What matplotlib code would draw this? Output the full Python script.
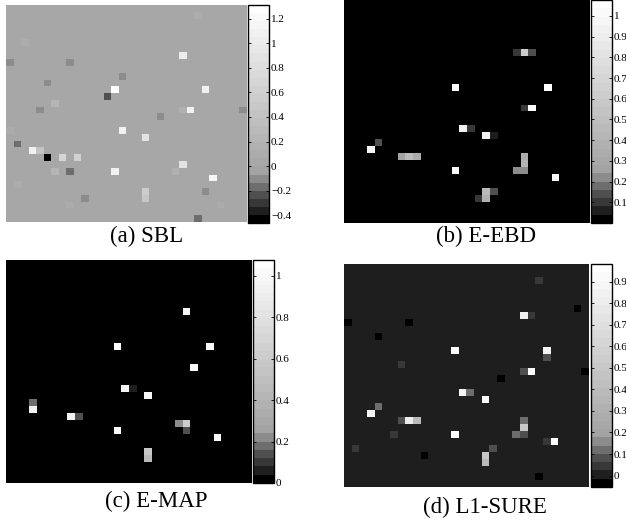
import numpy as np
import matplotlib
matplotlib.use("Agg")
from matplotlib import pyplot as plt
from matplotlib.colors import ListedColormap

plt.rcParams['font.family'] = ['Liberation Serif', 'DejaVu Serif']

N = 32

# (a) SBL  - nonzero cells (row, col, value), background 0
sbl_rows = [1, 5, 8, 8, 7, 10, 11, 12, 13, 12, 14, 15, 15, 15, 15, 16, 18, 18, 19, 20,
            21, 21, 22, 22, 22, 24, 24, 24, 24, 23, 25, 26, 27, 28, 27, 28, 29, 29, 31]
sbl_cols = [25, 2, 0, 8, 23, 15, 5, 14, 13, 26, 6, 4, 23, 24, 31, 20, 0, 15, 18, 1,
            3, 4, 5, 7, 9, 6, 8, 14, 22, 23, 27, 1, 18, 18, 26, 10, 8, 28, 25]
sbl_vals = [0.12, 0.1, -0.1, -0.1, 1.0, -0.1, -0.1, 1.28, -0.25, 1.05, 0.2, -0.1, 0.15, 1.08, -0.1, -0.1, 0.1, 1.05, 0.9, -0.18,
            1.05, 0.45, -0.44, 0.7, 0.65, 0.25, -0.18, 1.1, 0.15, 0.9, 1.12, 0.1, 0.55, 0.5, -0.12, -0.12, 0.1, 0.1, -0.17]

# (b) E-EBD
ebd_rows = [7, 7, 7, 12, 12, 15, 15, 18, 18, 19, 19, 20, 21, 22, 22, 22,
            22, 23, 24, 24, 24, 25, 27, 27, 28, 28]
ebd_cols = [22, 23, 24, 14, 26, 23, 24, 15, 16, 18, 19, 4, 3, 7, 8, 9,
            23, 23, 22, 23, 14, 27, 18, 19, 17, 18]
ebd_vals = [0.1, 0.6, 0.14, 1.05, 1.04, 0.1, 1.0, 0.95, 0.09, 0.95, 0.06, 0.14, 0.97, 0.26, 0.45, 0.33,
            0.33, 0.42, 0.22, 0.22, 1.02, 1.0, 0.45, 0.14, 0.1, 0.38]

# (c) E-MAP
map_rows = [7, 12, 12, 15, 18, 18, 19, 20, 21, 22, 22, 23, 23, 24, 24, 25, 27, 28]
map_cols = [23, 14, 26, 24, 15, 16, 18, 3, 3, 8, 9, 22, 23, 23, 14, 27, 18, 18]
map_vals = [0.97, 1.05, 1.0, 1.02, 0.97, 0.06, 0.97, 0.17, 0.95, 0.95, 0.15, 0.22, 0.6, 0.13, 1.0, 1.02, 0.58, 0.45]

# (d) L1-SURE
sure_rows = [2, 6, 8, 8, 10, 7, 7, 12, 12, 13, 14, 15, 15, 15, 16, 18, 18, 19, 20, 21,
             22, 22, 22, 22, 23, 24, 24, 24, 24, 25, 25, 26, 26, 27, 27, 28, 30]
sure_cols = [25, 30, 0, 8, 4, 23, 24, 14, 26, 26, 7, 23, 24, 31, 20, 15, 16, 18, 4, 3,
             7, 8, 9, 23, 23, 22, 23, 14, 6, 26, 27, 1, 19, 10, 18, 18, 25]
sure_vals = [0.045, -0.045, -0.045, -0.045, -0.045, 0.85, 0.045, 0.95, 0.88, 0.08, 0.045, 0.08, 0.95, -0.045, -0.045, 0.9, 0.11, 0.92, 0.11, 0.88,
             0.08, 0.82, 0.4, 0.11, 0.5, 0.13, 0.08, 0.95, 0.045, 0.045, 0.95, 0.045, 0.08, -0.045, 0.5, 0.38, -0.045]

captions = ["(a) SBL", "(b) E-EBD", "(c) E-MAP", "(d) L1-SURE"]
limits = [(-0.462, 1.31), (0.0, 1.077), (0.0, 1.076), (-0.053, 0.982)]
ticks = [[-0.4, -0.2, 0, 0.2, 0.4, 0.6, 0.8, 1, 1.2],
         [0.1, 0.2, 0.3, 0.4, 0.5, 0.6, 0.7, 0.8, 0.9, 1],
         [0, 0.2, 0.4, 0.6, 0.8, 1],
         [0, 0.1, 0.2, 0.3, 0.4, 0.5, 0.6, 0.7, 0.8, 0.9]]


def make_grid(rows, cols, vals):
    g = np.zeros((N, N))
    g[rows, cols] = vals
    return g


grids = [make_grid(sbl_rows, sbl_cols, sbl_vals),
         make_grid(ebd_rows, ebd_cols, ebd_vals),
         make_grid(map_rows, map_cols, map_vals),
         make_grid(sure_rows, sure_cols, sure_vals)]

# gray map with a few coarse dark steps, then fine light ones
grays = [0.0, 0.12, 0.22, 0.31, 0.43, 0.55] + list(np.linspace(0.64, 1.0, 21))
cmap = ListedColormap([(g, g, g) for g in grays])

W, H = 626, 525
fig = plt.figure(figsize=(W / 100, H / 100), dpi=100)


def add_px(x0, y0, x1, y1):
    return fig.add_axes([x0 / W, 1 - y1 / H, (x1 - x0) / W, (y1 - y0) / H])


img_box = [(6, 5, 247, 222), (344, 0, 590, 223), (6, 260, 252, 483), (344, 264, 589, 487)]
cb_box = [(248, 5, 269, 223), (591, 0, 612, 223), (253, 260, 274, 483), (591, 264, 612, 487)]
cap_pos = [(147, 242), (486, 242), (156, 507), (485, 513)]

for i in range(4):
    ax = add_px(*img_box[i])
    im = ax.imshow(grids[i], cmap=cmap, vmin=limits[i][0], vmax=limits[i][1],
                   interpolation='nearest', aspect='auto')
    ax.axis('off')

    cax = add_px(*cb_box[i])
    cb = fig.colorbar(im, cax=cax)
    cb.outline.set_linewidth(1.0)
    cb.set_ticks(ticks[i])
    cb.set_ticklabels([('%g' % t).replace('-', '\u2212') for t in ticks[i]])
    cax.tick_params(direction='in', length=2.5, width=0.6, left=True, right=True,
                    labelsize=8, pad=1.5)

    fig.text(cap_pos[i][0] / W, 1 - cap_pos[i][1] / H, captions[i],
             ha='center', va='baseline', fontsize=16.5)

plt.savefig("out.png", dpi=100)
